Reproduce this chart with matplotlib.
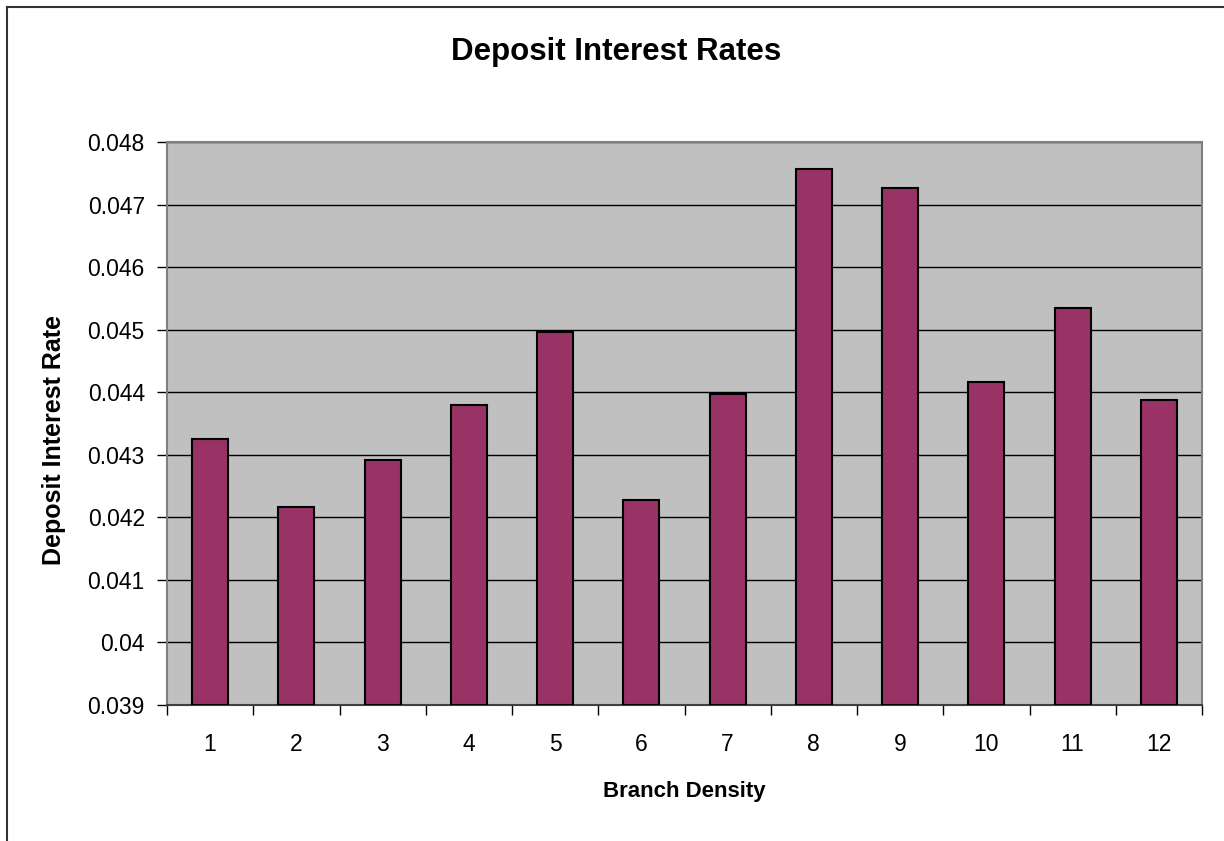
import matplotlib.pyplot as plt
from matplotlib.lines import Line2D
from matplotlib.ticker import FixedLocator

plt.rcParams['font.family'] = ['Liberation Sans', 'DejaVu Sans']

# Deposit interest rate by branch density group
density = [1, 2, 3, 4, 5, 6, 7, 8, 9, 10, 11, 12]
rates = [0.04326, 0.04216, 0.04292, 0.04379, 0.04496, 0.04228,
         0.04397, 0.04757, 0.04726, 0.04417, 0.04534, 0.04387]
yticks = [0.039, 0.04, 0.041, 0.042, 0.043, 0.044, 0.045, 0.046, 0.047, 0.048]
ytick_labels = ['0.039', '0.04', '0.041', '0.042', '0.043', '0.044',
                '0.045', '0.046', '0.047', '0.048']

W, H = 1224, 841
L, R, T, B = 167, 1202, 142, 705

fig = plt.figure(figsize=(W / 100, H / 100), dpi=100)
ax = fig.add_axes([L / W, 1 - B / H, (R - L) / W, (B - T) / H])

ax.set_facecolor('#C0C0C0')
ax.bar(density, [r - 0.039 for r in rates], bottom=0.039, width=0.42,
       color='#993366', edgecolor='black', linewidth=1.5, zorder=3)

ax.set_xlim(0.5, 12.5)
ax.set_ylim(0.039, 0.048)
ax.set_yticks(yticks)
ax.set_yticklabels(ytick_labels, fontsize=16.5)
ax.yaxis.grid(True, color='black', linewidth=1.0, zorder=1)
ax.set_axisbelow(True)

ax.set_xticks(density)
ax.set_xticklabels([str(d) for d in density], fontsize=16.5)
ax.tick_params(axis='x', which='major', length=0, pad=20)
ax.xaxis.set_minor_locator(FixedLocator([i + 0.5 for i in range(0, 13)]))
ax.tick_params(axis='x', which='minor', length=7, width=1, color='black')
ax.tick_params(axis='y', length=7, width=1, pad=9)

for side in ['top', 'right', 'left']:
    ax.spines[side].set_color('#808080')
    ax.spines[side].set_linewidth(1.5)
ax.spines['bottom'].set_color('#404040')
ax.spines['bottom'].set_linewidth(1.5)

ax.set_xlabel('Branch Density', fontsize=16, fontweight='bold', va='center')
ax.xaxis.set_label_coords((684 - L) / (R - L), (B - 792) / (B - T))
ax.set_ylabel('Deposit Interest Rate', fontsize=18, fontweight='bold', va='center')
ax.yaxis.set_label_coords((54 - L) / (R - L), (B - 440) / (B - T))
fig.text(616 / W, 1 - 52 / H, 'Deposit Interest Rates', ha='center', va='center',
         fontsize=22.5, fontweight='bold')

# chart border (only top and left edges are inside the picture)
fig.add_artist(Line2D([7 / W, 1.0], [1 - 7 / H, 1 - 7 / H], transform=fig.transFigure,
                      color='#333333', linewidth=1.5))
fig.add_artist(Line2D([7 / W, 7 / W], [0.0, 1 - 7 / H], transform=fig.transFigure,
                      color='#333333', linewidth=1.5))

fig.savefig('out.png', dpi=100)
